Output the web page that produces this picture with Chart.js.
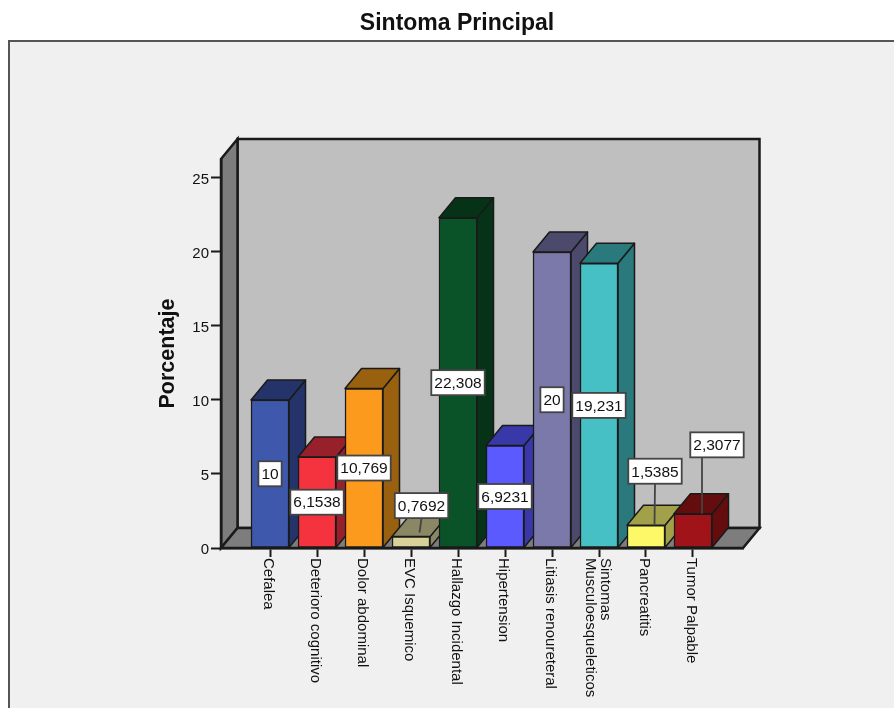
<!DOCTYPE html>
<html>
<head>
<meta charset="utf-8">
<title>Sintoma Principal</title>
<style>
  html, body { margin: 0; padding: 0; background: #fff; overflow: hidden; }
  canvas { display: block; }
</style>
<script src="https://cdn.jsdelivr.net/npm/chart.js@4/dist/chart.umd.min.js"></script>
</head>
<body>
<canvas id="chart" width="894" height="708"></canvas>
<script>
const categories = ['Cefalea', 'Deterioro cognitivo', 'Dolor abdominal', 'EVC Isquemico', 'Hallazgo Incidental',
  'Hipertension', 'Litiasis renoureteral', ['Sintomas', 'Musculoesqueleticos'], 'Pancreatitis', 'Tumor Palpable'];
const percentages = [10, 6.1538, 10.769, 0.7692, 22.308, 6.9231, 20, 19.231, 1.5385, 2.3077];
const valueLabels = ['10', '6,1538', '10,769', '0,7692', '22,308', '6,9231', '20', '19,231', '1,5385', '2,3077'];
const frontColors = ['#3e58ac', '#f5333f', '#fb9a1c', '#d8d19a', '#0a5329', '#5a5aff', '#7a79aa', '#47c0c5', '#fdf868', '#a01419'];
const sideColors = ['#24336a', '#98202a', '#98600f', '#8a8764', '#063218', '#3838a8', '#4b4a6c', '#2a7a7d', '#a3a04a', '#640d0f'];

// the fake 3D depth, same for walls and bars
const DEPTH_X = 16.5;
const DEPTH_Y = 20;
const FONT = '"Liberation Sans", Arial, sans-serif';
const LINE = '#1a1a1a';

// labels of the short bars sit above them with a leader line
const callouts = {
  3: { dx: 10.5, dy: -31 },
  8: { dx: 9, dy: -54 },
  9: { dx: 24, dy: -69 }
};

function poly(ctx, points, fill) {
  ctx.beginPath();
  points.forEach((p, i) => (i ? ctx.lineTo(p[0], p[1]) : ctx.moveTo(p[0], p[1])));
  ctx.closePath();
  ctx.fillStyle = fill;
  ctx.fill();
  ctx.stroke();
}

const box3d = {
  id: 'box3d',
  beforeDraw(chart) {
    const { ctx, chartArea: a } = chart;
    ctx.save();
    // grey panel behind the chart
    ctx.fillStyle = '#f0f0f0';
    ctx.strokeStyle = '#555';
    ctx.lineWidth = 2;
    ctx.fillRect(9, 41, 900, 680);
    ctx.strokeRect(9, 41, 900, 680);
    // walls and floor
    const bx = a.left + DEPTH_X;
    const rx = a.right + DEPTH_X;
    const ty = a.top - DEPTH_Y;
    const by = a.bottom - DEPTH_Y;
    ctx.strokeStyle = LINE;
    ctx.lineWidth = 2.5;
    poly(ctx, [[bx, ty], [rx, ty], [rx, by], [bx, by]], '#bfbfbf');
    poly(ctx, [[a.left, a.top], [bx, ty], [bx, by], [a.left, a.bottom]], '#7d7d7d');
    poly(ctx, [[a.left, a.bottom], [bx, by], [rx, by], [a.right, a.bottom]], '#7d7d7d');
    ctx.restore();
  },
  beforeDatasetsDraw(chart) {
    // top and side faces go under all the front faces
    const { ctx } = chart;
    const bars = chart.getDatasetMeta(0).data;
    ctx.save();
    ctx.strokeStyle = LINE;
    ctx.lineWidth = 1.5;
    ctx.lineJoin = 'round';
    bars.forEach((bar, i) => {
      const l = bar.x - bar.width / 2;
      const r = bar.x + bar.width / 2;
      poly(ctx, [[r, bar.y], [r + DEPTH_X, bar.y - DEPTH_Y], [r + DEPTH_X, bar.base - DEPTH_Y], [r, bar.base]], sideColors[i]);
      poly(ctx, [[l, bar.y], [l + DEPTH_X, bar.y - DEPTH_Y], [r + DEPTH_X, bar.y - DEPTH_Y], [r, bar.y]], sideColors[i]);
    });
    ctx.restore();
  },
  afterDatasetsDraw(chart) {
    const { ctx, scales } = chart;
    const bars = chart.getDatasetMeta(0).data;
    ctx.save();
    ctx.font = '15px ' + FONT;
    ctx.textBaseline = 'middle';

    // category labels read downwards from the axis
    categories.forEach((name, i) => {
      const lines = [].concat(name);
      const px = scales.x.getPixelForValue(i);
      ctx.save();
      ctx.translate(px - 2, scales.x.top + 10);
      ctx.rotate(Math.PI / 2);
      ctx.fillStyle = '#111';
      ctx.textAlign = 'left';
      lines.forEach((text, n) => {
        ctx.fillText(text, 0, (n - (lines.length - 1) / 2) * 15 - (lines.length > 1 ? 1 : 0));
      });
      ctx.restore();
    });

    // value labels
    ctx.font = '15.5px ' + FONT;
    ctx.textAlign = 'center';
    bars.forEach((bar, i) => {
      const w = ctx.measureText(valueLabels[i]).width + 6;
      const h = 25;
      const c = callouts[i];
      const cx = c ? bar.x + c.dx : bar.x;
      const cy = c ? bar.y + c.dy : (bar.y + bar.base) / 2;
      ctx.strokeStyle = '#444';
      ctx.lineWidth = 1.8;
      if (c) {
        ctx.beginPath();
        ctx.moveTo(cx + (i === 9 ? -15 : 0), cy + h / 2);
        ctx.lineTo(bar.x + (i === 9 ? 9 : 8.5), bar.y - (i === 3 ? 4 : 0));
        ctx.stroke();
      }
      ctx.fillStyle = '#fff';
      ctx.fillRect(cx - w / 2, cy - h / 2, w, h);
      ctx.strokeRect(cx - w / 2, cy - h / 2, w, h);
      ctx.fillStyle = '#111';
      ctx.fillText(valueLabels[i], cx, cy + 1);
    });
    ctx.restore();
  }
};

new Chart(document.getElementById('chart'), {
  type: 'bar',
  plugins: [box3d],
  data: {
    datasets: [{
      label: 'Porcentaje',
      data: categories.map((_, i) => ({ x: i, y: percentages[i] })),
      backgroundColor: frontColors,
      borderColor: LINE,
      borderWidth: 1.5,
      borderSkipped: false,
      barThickness: 38
    }]
  },
  options: {
    responsive: false,
    animation: false,
    layout: { padding: { top: 0, left: 20, right: 0, bottom: 151 } },
    plugins: {
      legend: { display: false },
      tooltip: { enabled: false },
      title: {
        display: true,
        text: 'Sintoma Principal',
        color: '#111',
        font: { family: FONT, size: 23, weight: 'bold', lineHeight: 1.2 },
        padding: { top: 10.2, bottom: 121.2 }
      }
    },
    scales: {
      x: {
        type: 'linear',
        offset: false,
        min: -1.043,
        max: 10.064,
        afterBuildTicks(scale) {
          scale.ticks = categories.map((_, i) => ({ value: i }));
        },
        ticks: { display: false },
        grid: { offset: false, drawOnChartArea: false, drawTicks: true, tickLength: 9, tickWidth: 2, color: LINE },
        border: { color: LINE, width: 2.5 }
      },
      y: {
        min: 0,
        max: 26.28,
        afterFit(scale) { scale.width = 201; },
        title: {
          display: true,
          text: 'Porcentaje',
          color: '#111',
          font: { family: FONT, size: 21.5, weight: 'bold' },
          padding: { top: 135, bottom: 0 }
        },
        ticks: { stepSize: 5, includeBounds: false, color: '#111', padding: 2, labelOffset: 1.5, font: { family: FONT, size: 15 } },
        grid: { drawOnChartArea: false, drawTicks: true, tickLength: 10, tickWidth: 2, color: LINE },
        border: { color: LINE, width: 2.5 }
      },
      // empty axis, only keeps the room on the right of the floor
      spacer: {
        type: 'linear',
        position: 'right',
        afterFit(scale) { scale.width = 151; },
        ticks: { display: false },
        grid: { display: false },
        border: { display: false }
      }
    }
  }
});
</script>
</body>
</html>
